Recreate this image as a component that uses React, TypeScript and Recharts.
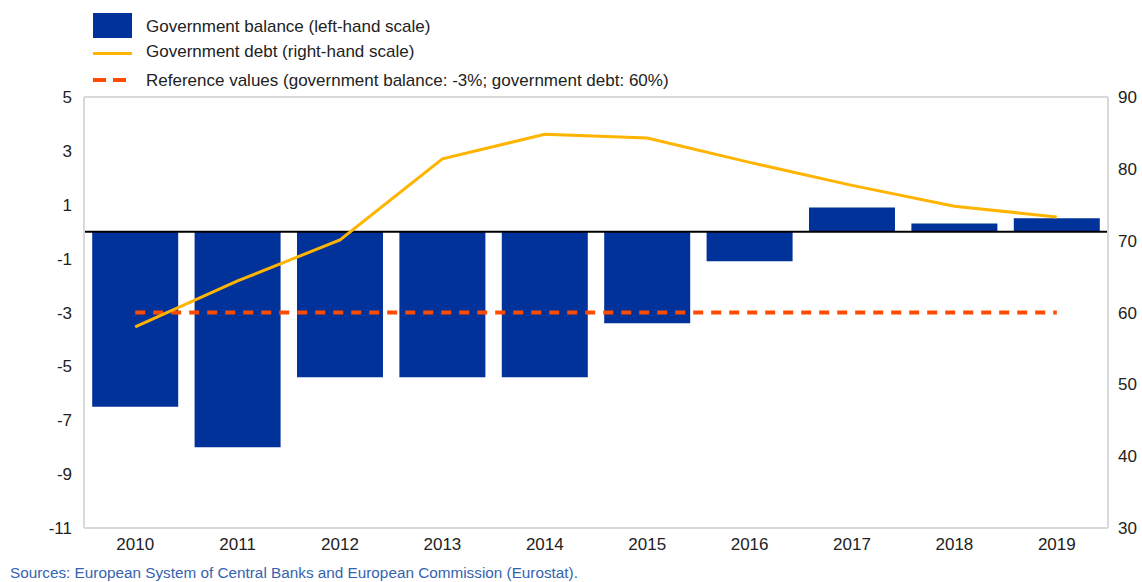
import React from "react";
import {
  ComposedChart,
  Bar,
  Line,
  XAxis,
  YAxis,
  CartesianGrid,
  ReferenceLine,
} from "recharts";

// data
const years = ["2010", "2011", "2012", "2013", "2014", "2015", "2016", "2017", "2018", "2019"];
const balance = [-6.5, -8.0, -5.4, -5.4, -5.4, -3.4, -1.1, 0.9, 0.3, 0.5];
const debt = [58.0, 64.4, 70.1, 81.4, 84.8, 84.3, 80.9, 77.7, 74.8, 73.3];
const refBalance = [-3, -3, -3, -3, -3, -3, -3, -3, -3, -3];
const leftTicks = [-11, -9, -7, -5, -3, -1, 1, 3, 5];
const rightTicks = [30, 40, 50, 60, 70, 80, 90];

const FONT = "'Liberation Sans', Arial, sans-serif";
const BLUE = "#003299";
const YELLOW = "#FFB400";
const ORANGE = "#FF4B00";
const GRID = "#d9d9d9";

const chartData = years.map((year, i) => ({
  year,
  balance: balance[i],
  debt: debt[i],
  reference: refBalance[i],
}));

function LegendBlock() {
  const row: React.CSSProperties = {
    position: "absolute",
    left: 146,
    fontSize: 17,
    color: "#222",
    fontFamily: FONT,
    lineHeight: "20px",
    whiteSpace: "nowrap",
  };
  return (
    <>
      <div style={{ position: "absolute", left: 93, top: 13, width: 39, height: 25, background: BLUE }} />
      <div style={{ ...row, top: 17 }}>Government balance (left-hand scale)</div>
      <div style={{ position: "absolute", left: 93, top: 52, width: 39, height: 3, background: YELLOW }} />
      <div style={{ ...row, top: 42 }}>Government debt (right-hand scale)</div>
      <div style={{ position: "absolute", left: 93, top: 78, width: 13, height: 4, background: ORANGE }} />
      <div style={{ position: "absolute", left: 113, top: 78, width: 13, height: 4, background: ORANGE }} />
      <div style={{ ...row, top: 71 }}>Reference values (government balance: -3%; government debt: 60%)</div>
    </>
  );
}

export default function App() {
  const tick = { fill: "#222", fontSize: 17, fontFamily: FONT };
  return (
    <div
      style={{
        position: "absolute",
        left: 0,
        top: 0,
        width: 1142,
        height: 582,
        background: "#fff",
        overflow: "hidden",
      }}
    >
      <LegendBlock />
      <ComposedChart
        width={1142}
        height={582}
        data={chartData}
        margin={{ top: 97, right: 0, bottom: 24, left: 0 }}
        barCategoryGap="8%"
      >
        <CartesianGrid vertical={false} stroke={GRID} strokeWidth={2} />
        <XAxis
          dataKey="year"
          axisLine={{ stroke: GRID, strokeWidth: 2 }}
          tickLine={false}
          tick={tick}
          tickMargin={4}
          height={30}
          interval={0}
        />
        <YAxis
          yAxisId="left"
          orientation="left"
          width={84}
          domain={[-11, 5]}
          ticks={leftTicks}
          interval={0}
          axisLine={{ stroke: GRID, strokeWidth: 2 }}
          tickLine={false}
          tickMargin={6}
          tick={tick}
        />
        <YAxis
          yAxisId="right"
          orientation="right"
          width={34}
          domain={[30, 90]}
          ticks={rightTicks}
          interval={0}
          axisLine={{ stroke: GRID, strokeWidth: 2 }}
          tickLine={false}
          tickMargin={4}
          tick={tick}
        />
        <Bar yAxisId="left" dataKey="balance" fill={BLUE} isAnimationActive={false} />
        <ReferenceLine yAxisId="left" y={0} stroke="#000" strokeWidth={2} />
        <Line
          yAxisId="left"
          dataKey="reference"
          stroke={ORANGE}
          strokeWidth={4}
          strokeDasharray="10 8"
          dot={false}
          isAnimationActive={false}
        />
        <Line
          yAxisId="right"
          dataKey="debt"
          stroke={YELLOW}
          strokeWidth={3}
          dot={false}
          isAnimationActive={false}
        />
      </ComposedChart>
      <div
        style={{
          position: "absolute",
          left: 10,
          top: 564,
          fontSize: 15.3,
          color: "#3563b0",
          fontFamily: FONT,
          lineHeight: "18px",
          whiteSpace: "nowrap",
        }}
      >
        Sources: European System of Central Banks and European Commission (Eurostat).
      </div>
    </div>
  );
}
